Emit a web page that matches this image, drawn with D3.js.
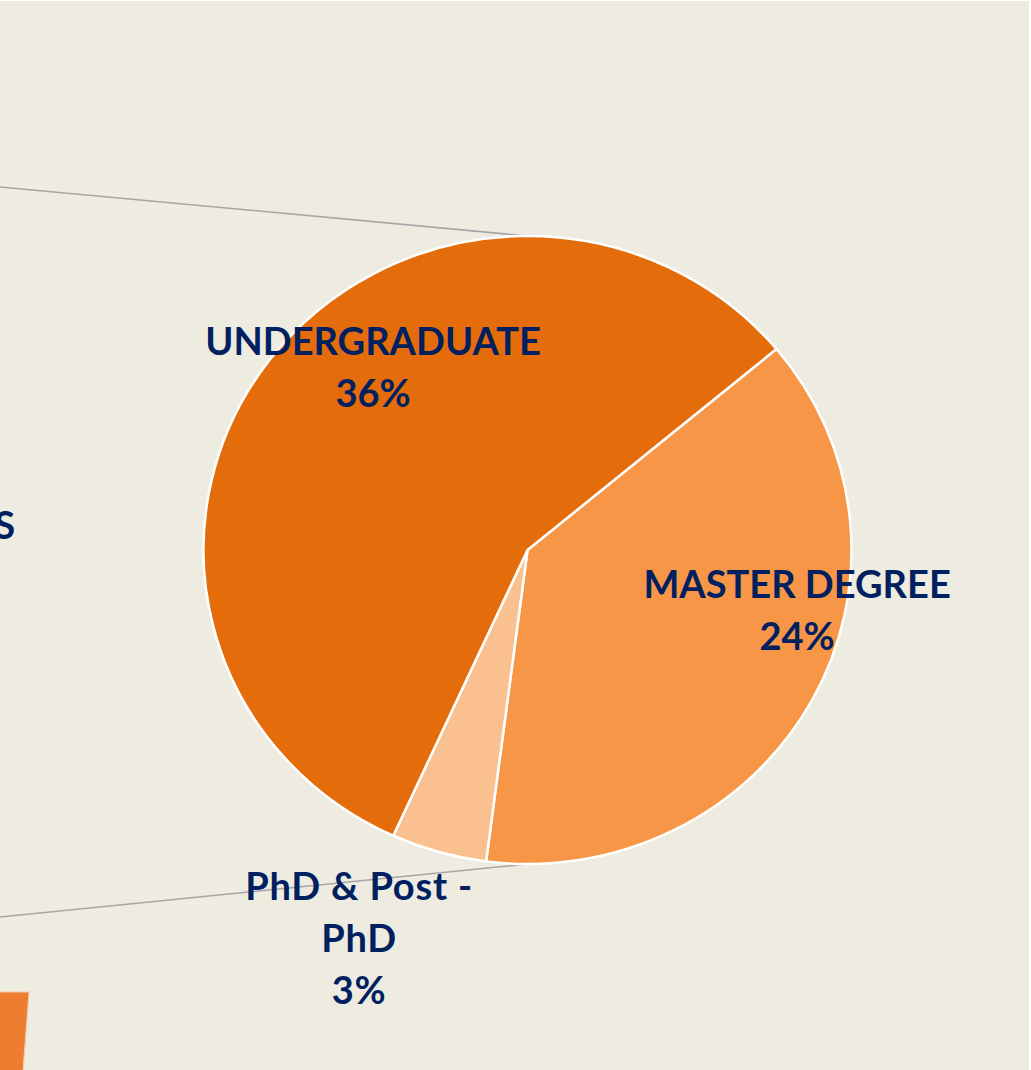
<!DOCTYPE html>
<html>
<head>
<meta charset="utf-8">
<script src="https://cdn.jsdelivr.net/npm/d3@7"></script>
<style>
  html, body { margin: 0; padding: 0; background: #ffffff; overflow: hidden; }
  svg { display: block; }
</style>
</head>
<body>
<svg id="chart" width="1031" height="1070"></svg>
<script>
// ---- data ----
const categories = ["MASTER DEGREE", "PhD & Post - PhD", "UNDERGRADUATE"];
const values = [24, 3, 36];
const labelLines = [["MASTER DEGREE", "24%"], ["PhD & Post -", "PhD", "3%"], ["UNDERGRADUATE", "36%"]];
const colors = ["#F79646", "#FAC090", "#E46C0A"];
// label placement: angle (deg, clockwise from 12 o'clock) and radius fraction
const labelAngles = [100.4, 205, 322.5];
const labelRadii = [0.846, 1.23, 0.783];
// fragments of the (cropped) primary pie on the left
const primaryLabel = "S";
const primaryFragment = [[0, 992], [29, 992], [23, 1071], [0, 1071]];
const connectorStarts = [[0, 187], [0, 917]];

// ---- layout ----
const W = 1031, H = 1070;
const cx = 527.5, cy = 550, rx = 324, ry = 314;
const ky = ry / rx;
const startDeg = 50.2;

const svg = d3.select("#chart");
svg.append("rect").attr("x", 0).attr("y", 1).attr("width", 1029).attr("height", H)
  .attr("fill", "#EEEBE0");

// connector lines (pie-of-pie)
const pieTop = [cx, cy - ry], pieBottom = [cx, cy + ry];
svg.append("line").attr("x1", connectorStarts[0][0]).attr("y1", connectorStarts[0][1])
  .attr("x2", pieTop[0]).attr("y2", pieTop[1])
  .attr("stroke", "#A5A5A5").attr("stroke-width", 1.5);
svg.append("line").attr("x1", connectorStarts[1][0]).attr("y1", connectorStarts[1][1])
  .attr("x2", pieBottom[0]).attr("y2", pieBottom[1])
  .attr("stroke", "#A5A5A5").attr("stroke-width", 1.5);

// primary pie fragment
svg.append("path").attr("d", d3.line()(primaryFragment))
  .attr("fill", "#ED7D31").attr("stroke", "#F6C9A8").attr("stroke-width", 1);

svg.append("text").attr("x", 0).attr("y", 539)
  .attr("font-family", "Lato, 'Open Sans', sans-serif").attr("font-weight", 700)
  .attr("font-size", 38).attr("fill", "#002060").attr("text-anchor", "end")
  .attr("dx", 15).text(primaryLabel);

// secondary pie
const data = categories.map((c, i) => ({ cat: c, value: values[i], color: colors[i], lines: labelLines[i], la: labelAngles[i], lr: labelRadii[i] }));
const pie = d3.pie().sort(null).value(d => d.value)
  .startAngle(startDeg * Math.PI / 180).endAngle((startDeg + 360) * Math.PI / 180);
const arc = d3.arc().innerRadius(0).outerRadius(rx);

const g = svg.append("g").attr("transform", `translate(${cx},${cy}) scale(1,${ky})`);
g.selectAll("path").data(pie(data)).join("path")
  .attr("d", arc)
  .attr("fill", d => d.data.color)
  .attr("stroke", "#ffffff").attr("stroke-width", 2.5)
  .attr("vector-effect", "non-scaling-stroke")
  .attr("stroke-linejoin", "round");

// labels
const lineH = 52;
const lab = svg.append("g").attr("font-family", "Lato, 'Open Sans', sans-serif")
  .attr("font-weight", 700).attr("font-size", 38).attr("fill", "#002060")
  .attr("text-anchor", "middle");
data.forEach(d => {
  const a = d.la * Math.PI / 180;
  const x = cx + d.lr * rx * Math.sin(a);
  const y = cy - d.lr * ry * Math.cos(a);
  const t = lab.append("text").attr("x", x).attr("y", y);
  d.lines.forEach((s, i) => {
    t.append("tspan").attr("x", x).attr("y", y + i * lineH)
      .attr("letter-spacing", d.cat.startsWith("PhD") ? 0.8 : 0).text(s);
  });
});
</script>
</body>
</html>
